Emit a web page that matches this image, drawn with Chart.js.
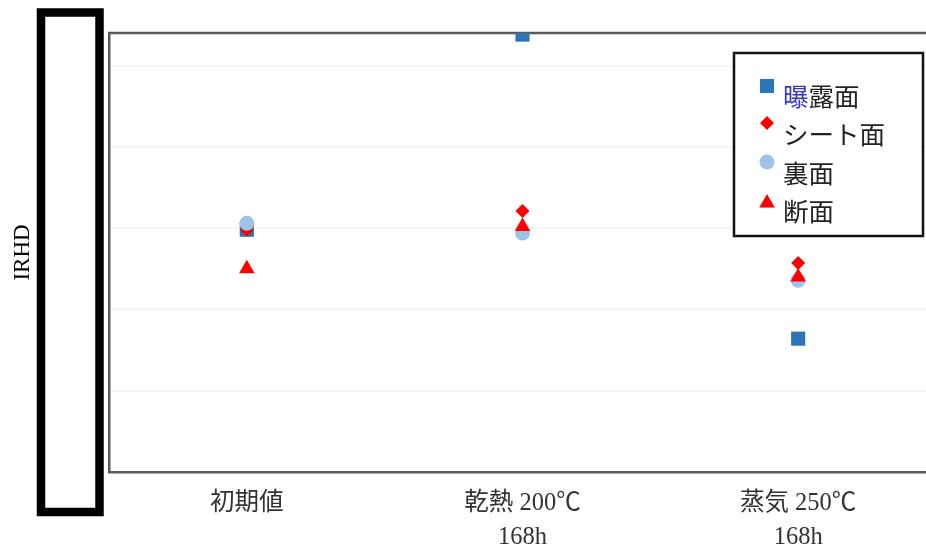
<!DOCTYPE html>
<html>
<head>
<meta charset="utf-8">
<script src="https://cdn.jsdelivr.net/npm/chart.js"></script>
<style>
  html, body { margin: 0; padding: 0; background: #fff; overflow: hidden; width: 926px; height: 548px; }
  #wrap { width: 946px; height: 548px; }
</style>
</head>
<body>
<div id="wrap"><canvas id="c" width="946" height="548"></canvas></div>
<script>
// ---- data ----
const categories = [['初期値'], ['乾熱 200℃', '168h'], ['蒸気 250℃', '168h']];
const seriesNames = ['曝露面', 'シート面', '裏面', '断面'];
const exposedFace = [64.9, 76.9, 58.2];   // 曝露面
const sheetFace   = [64.9, 66.05, 62.85]; // シート面
const backFace    = [65.3, 64.7, 61.8];   // 裏面
const sectionFace = [62.5, 65.1, 62.0];   // 断面
const yMin = 50, yMax = 77, yStep = 5;

const serifFont = '"Liberation Serif", "Noto Sans CJK JP", serif';
const styles = [
  { color: '#2e75b6', pointStyle: 'rect', radius: 10, order: 4 },
  { color: '#ff0000', pointStyle: 'rectRot', radius: 7, order: 3 },
  { color: '#9dc3e6', pointStyle: 'circle', radius: 7.5, order: 2 },
  { color: '#ff0000', pointStyle: 'triangle', radius: 9, order: 1 }
];
const values = [exposedFace, sheetFace, backFace, sectionFace];

const datasets = values.map((v, i) => ({
  label: seriesNames[i],
  data: v,
  showLine: false,
  pointStyle: styles[i].pointStyle,
  pointRadius: styles[i].radius,
  pointHoverRadius: styles[i].radius,
  pointBackgroundColor: styles[i].color,
  pointBorderColor: styles[i].color,
  pointBorderWidth: 0,
  order: styles[i].order
}));

const framePlugin = {
  id: 'frame',
  beforeDatasetsDraw(chart) {
    const { ctx, chartArea } = chart;
    ctx.save();
    ctx.strokeStyle = '#5a5a5a';
    ctx.lineWidth = 2.5;
    ctx.beginPath();
    ctx.moveTo(chartArea.left - 1, chartArea.top);
    ctx.lineTo(chartArea.right, chartArea.top);
    ctx.stroke();
    ctx.restore();
  },
  afterDraw(chart) {
    const { ctx } = chart;
    ctx.save();
    // black box over the y-axis tick labels
    ctx.strokeStyle = '#000';
    ctx.lineWidth = 8.5;
    ctx.strokeRect(41, 12.5, 58.5, 499.5);

    // legend box
    ctx.fillStyle = '#fff';
    ctx.fillRect(734, 53, 189, 183);
    ctx.strokeStyle = '#111';
    ctx.lineWidth = 2.5;
    ctx.strokeRect(734, 53, 189, 183);

    const markerY = [86, 123, 162, 203];
    const textY = [99, 137, 176, 214];
    ctx.font = '25.5px ' + serifFont;
    ctx.textBaseline = 'middle';
    ctx.textAlign = 'left';
    seriesNames.forEach((name, i) => {
      const st = styles[i];
      ctx.fillStyle = st.color;
      ctx.strokeStyle = st.color;
      ctx.lineWidth = 0;
      if (Chart.helpers && Chart.helpers.drawPoint) {
        Chart.helpers.drawPoint(ctx, { pointStyle: st.pointStyle, radius: st.radius, borderWidth: 0, rotation: 0 }, 767, markerY[i]);
      }
      if (i === 0) {
        ctx.fillStyle = '#3838d0';
        ctx.fillText(name.charAt(0), 783, textY[i]);
        const w = ctx.measureText(name.charAt(0)).width;
        ctx.fillStyle = '#222';
        ctx.fillText(name.slice(1), 783 + w, textY[i]);
      } else {
        ctx.fillStyle = '#222';
        ctx.fillText(name, 783, textY[i]);
      }
    });
    ctx.restore();
  }
};

new Chart(document.getElementById('c'), {
  type: 'line',
  data: { labels: categories, datasets },
  options: {
    responsive: false,
    animation: false,
    devicePixelRatio: 1,
    layout: { padding: { top: 33, right: 7, left: 0, bottom: 0 } },
    plugins: { legend: { display: false }, tooltip: { enabled: false } },
    scales: {
      x: {
        offset: true,
        grid: { display: false, drawTicks: false },
        border: { display: true, color: '#5a5a5a', width: 2.5 },
        ticks: {
          color: '#333',
          font: { family: serifFont, size: 24.5, lineHeight: 1.4 },
          padding: 14,
          maxRotation: 0,
          autoSkip: false
        },
        afterFit(s) { s.height = 76; }
      },
      y: {
        min: yMin,
        max: yMax,
        ticks: { display: false, stepSize: yStep },
        grid: { color: 'rgba(0,0,0,0.04)', lineWidth: 2, drawTicks: false },
        border: { display: true, color: '#5a5a5a', width: 2.5 },
        title: {
          display: true,
          text: 'IRHD',
          color: '#000',
          font: { family: serifFont, size: 23 },
          padding: { top: 9, bottom: 0 }
        },
        afterFit(s) { s.width = 109; }
      }
    }
  },
  plugins: [framePlugin]
});
</script>
</body>
</html>
